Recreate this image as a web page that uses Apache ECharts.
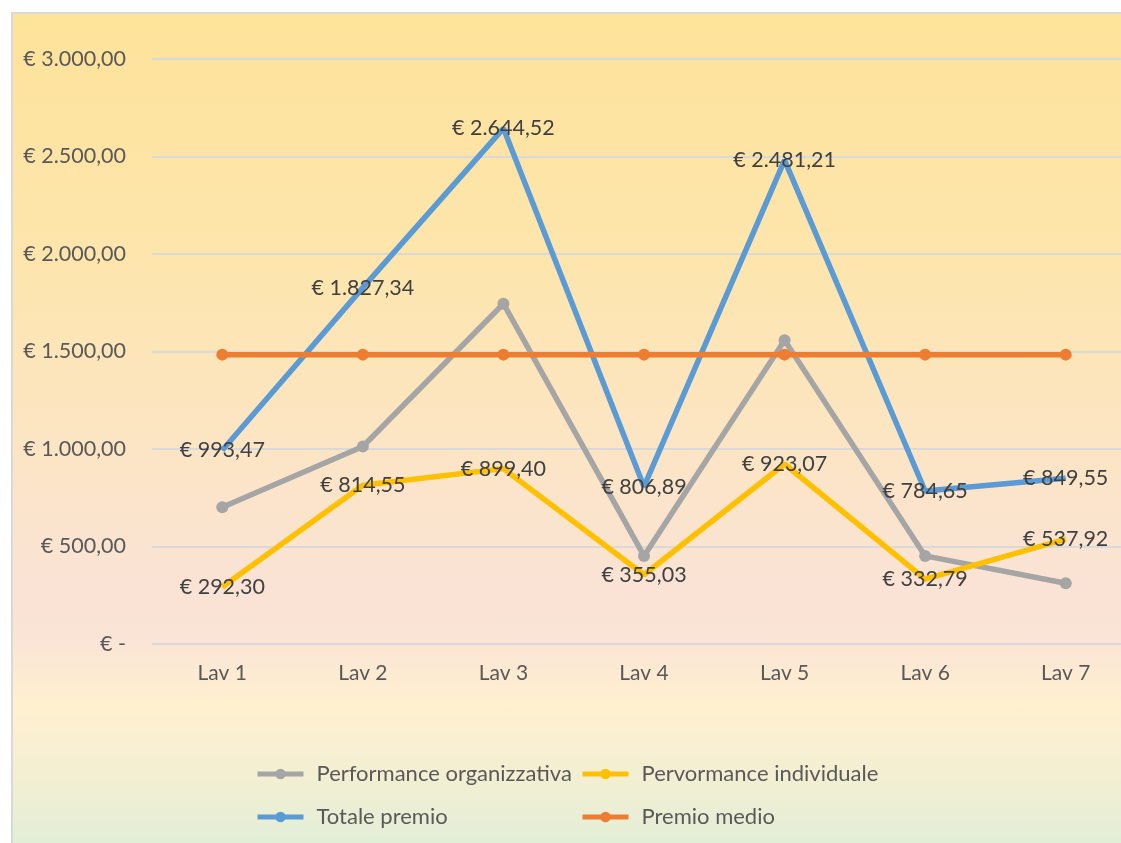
<!DOCTYPE html>
<html>
<head>
<meta charset="utf-8">
<script src="https://cdn.jsdelivr.net/npm/echarts@6/dist/echarts.min.js"></script>
<style>
  html, body { margin: 0; padding: 0; background: #ffffff; width: 1121px; height: 843px; overflow: hidden; }
  #bg {
    position: absolute; left: 11px; top: 12px; width: 1160px; height: 860px;
    border: 2px solid #d9d9d9; box-sizing: border-box;
    background: linear-gradient(to bottom,
      #fee39a 0px, #fde5ad 250px, #fce5c2 420px, #fae3d5 570px,
      #fae4d6 625px, #fff0cf 690px, #f3efd2 760px, #e2eed8 835px);
  }
  #chart { position: absolute; left: 0; top: 0; width: 1150px; height: 843px; }
</style>
</head>
<body>
<div id="bg"></div>
<div id="chart"></div>
<script>
// Workers and their bonus components (EUR)
const categories = ['Lav 1', 'Lav 2', 'Lav 3', 'Lav 4', 'Lav 5', 'Lav 6', 'Lav 7'];
const performanceOrganizzativa = [701.17, 1012.79, 1745.12, 451.86, 1558.14, 451.86, 311.63];
const performanceIndividuale = [292.30, 814.55, 899.40, 355.03, 923.07, 332.79, 537.92];
const totalePremio = [993.47, 1827.34, 2644.52, 806.89, 2481.21, 784.65, 849.55];
const premioMedio = [1483.95, 1483.95, 1483.95, 1483.95, 1483.95, 1483.95, 1483.95];
const seriesNames = ['Performance organizzativa', 'Pervormance individuale', 'Totale premio', 'Premio medio'];
const yTicks = { min: 0, max: 3000, interval: 500 };

// Italian currency format: € 1.234,56 ; zero shown as "€ -"
function euro(v) {
  if (v === 0) return '€ -';
  const fixed = Math.abs(v).toFixed(2);
  let [intPart, dec] = fixed.split('.');
  intPart = intPart.replace(/\B(?=(\d{3})+(?!\d))/g, '.');
  return '€ ' + intPart + ',' + dec;
}

const FONT = 'Lato';
const TEXT = '#595959';
const colors = ['#a5a5a5', '#ffc000', '#5b9bd5', '#ed7d31'];

const chart = echarts.init(document.getElementById('chart'), null, { renderer: 'canvas' });

const labelStyle = {
  show: true, position: 'inside', color: '#404040',
  fontFamily: FONT, fontSize: 21.5,
  formatter: p => euro(p.value)
};

const legendCommon = {
  orient: 'vertical', top: 758, itemGap: 21,
  itemWidth: 46, itemHeight: 13,
  lineStyle: { width: 5 },
  textStyle: { color: TEXT, fontFamily: FONT, fontSize: 22, padding: [0, 0, 0, 8] }
};

chart.setOption({
  backgroundColor: 'transparent',
  animation: false,
  color: colors,
  grid: { left: 152, top: 59, width: 984, height: 585 },
  xAxis: {
    type: 'category', data: categories, boundaryGap: true,
    axisLine: { show: false }, axisTick: { show: false },
    axisLabel: { color: TEXT, fontFamily: FONT, fontSize: 21, margin: 19 }
  },
  yAxis: {
    type: 'value', min: yTicks.min, max: yTicks.max, interval: yTicks.interval,
    axisLine: { show: false }, axisTick: { show: false },
    splitLine: { lineStyle: { color: '#d9d9d9', width: 2 } },
    axisLabel: { color: TEXT, fontFamily: FONT, fontSize: 21.5, margin: 26, formatter: v => euro(v) }
  },
  legend: [
    Object.assign({ left: 250, data: [seriesNames[0], seriesNames[2]] }, legendCommon),
    Object.assign({ left: 575, data: [seriesNames[1], seriesNames[3]] }, legendCommon)
  ],
  series: [
    {
      name: seriesNames[0], type: 'line', data: performanceOrganizzativa,
      symbol: 'circle', symbolSize: 12,
      lineStyle: { width: 5.5, color: colors[0] }, itemStyle: { color: colors[0] }
    },
    {
      name: seriesNames[1], type: 'line', data: performanceIndividuale,
      symbol: 'circle', symbolSize: 1,
      lineStyle: { width: 5.5, color: colors[1] }, itemStyle: { color: colors[1] },
      label: labelStyle
    },
    {
      name: seriesNames[2], type: 'line', data: totalePremio,
      symbol: 'circle', symbolSize: 1,
      lineStyle: { width: 5.5, color: colors[2] }, itemStyle: { color: colors[2] },
      label: labelStyle
    },
    {
      name: seriesNames[3], type: 'line', data: premioMedio,
      symbol: 'circle', symbolSize: 12,
      lineStyle: { width: 5.5, color: colors[3] }, itemStyle: { color: colors[3] }
    }
  ]
});
</script>
</body>
</html>
